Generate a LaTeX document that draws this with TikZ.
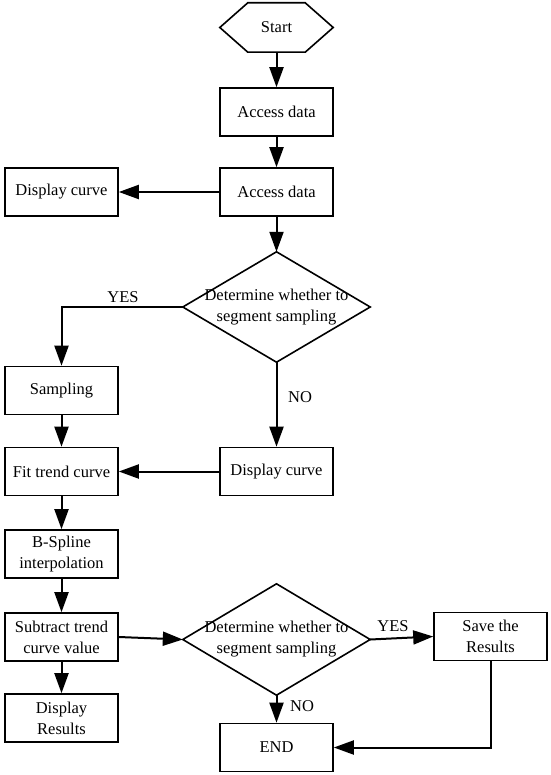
\documentclass[tikz,border=0pt]{standalone}
\usepackage{fontspec}
\setmainfont{Liberation Serif}
\usetikzlibrary{arrows.meta,positioning}
\begin{document}
\begin{tikzpicture}[x=1pt,y=-1pt,
  every node/.style={font=\fontsize{16.5}{21}\selectfont, inner sep=0pt},
  box/.style={draw, line width=1.6pt, minimum width=113pt, minimum height=48pt, align=center},
  hexbox/.style={minimum width=113pt, minimum height=49pt, align=center},
  decbox/.style={minimum width=187pt, minimum height=110pt, align=center},
  shapeline/.style={line width=1.6pt, line join=miter},
  conn/.style={line width=2pt, -{Triangle[length=20pt,width=14pt]}},
  lbl/.style={font=\fontsize{16.5}{21}\selectfont}
]
\useasboundingbox (0,0) rectangle (550,775);
% nodes
\node[hexbox] (start) at (276.5,27.5) {Start};
\draw[shapeline] (start.west) -- ([xshift=28pt]start.north west) -- ([xshift=-28pt]start.north east) -- (start.east) -- ([xshift=-28pt]start.south east) -- ([xshift=28pt]start.south west) -- cycle;
\node[box] (acc1) at (276.5,112) {Access data};
\node[box] (acc2) at (276.5,192) {Access data};
\node[box] (disp1) at (61.5,192) {Display curve};
\node[decbox] (dec1) at (276.5,307) {Determine whether to\\segment sampling};
\draw[shapeline] (dec1.north) -- (dec1.east) -- (dec1.south) -- (dec1.west) -- cycle;
\node[box] (samp) at (61.5,390.5) {Sampling};
\node[box] (fit) at (61.5,471.5) {Fit trend curve};
\node[box] (disp2) at (276.5,471.5) {Display curve};
\node[box] (bspl) at (61.5,554) {B-Spline\\interpolation};
\node[box] (sub) at (61.5,637) {Subtract trend\\curve value};
\node[box] (dres) at (61.5,718) {Display\\Results};
\node[decbox, minimum height=111pt] (dec2) at (276.5,639.5) {Determine whether to\\segment sampling};
\draw[shapeline] (dec2.north) -- (dec2.east) -- (dec2.south) -- (dec2.west) -- cycle;
\node[box] (save) at (490.5,636.5) {Save the\\Results};
\node[box] (end) at (276.5,747.5) {END};
% labels
\node[lbl] (yes1) at (123,297) {YES};
\node[lbl] (no1) at (300,397) {NO};
\node[lbl] (yes2) at (393,626) {YES};
\node[lbl] (no2) at (302,706) {NO};
% connectors
\draw[conn] (start.south) -- (acc1.north);
\draw[conn] (acc1.south) -- (acc2.north);
\draw[conn] (acc2.west) -- (disp1.east);
\draw[conn] (acc2.south) -- (dec1.north);
\draw[conn] (dec1.west) -| (samp.north);
\draw[conn] (dec1.south) -- (disp2.north);
\draw[conn] (samp.south) -- (fit.north);
\draw[conn] (disp2.west) -- (fit.east);
\draw[conn] (fit.south) -- (bspl.north);
\draw[conn] (bspl.south) -- (sub.north);
\draw[conn] (sub.south) -- (dres.north);
\draw[conn] (sub.east) -- (dec2.west);
\draw[conn] (dec2.east) -- (save.west);
\draw[conn] (dec2.south) -- (end.north);
\draw[conn] (save.south) |- (end.east);
\end{tikzpicture}
\end{document}
